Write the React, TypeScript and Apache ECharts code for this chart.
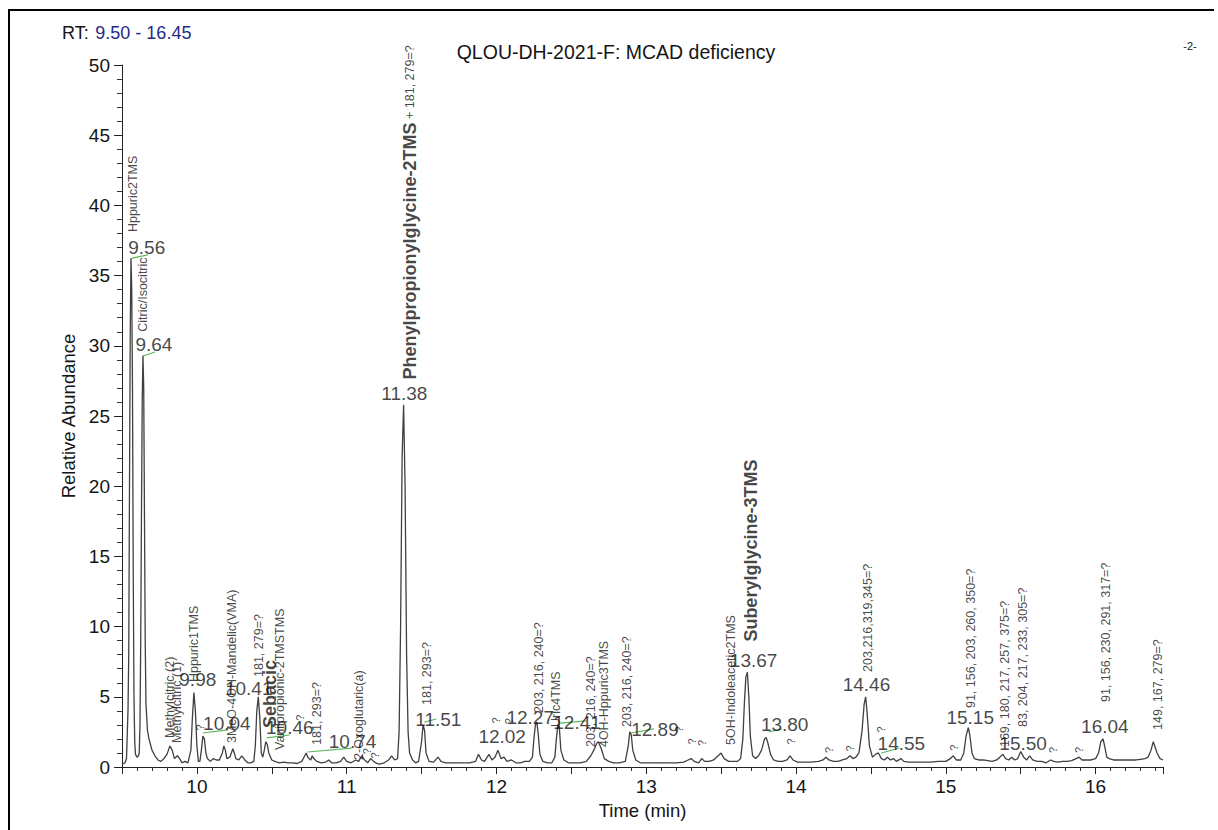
import React, { useEffect, useRef } from 'react';
import * as echarts from 'echarts';

const FONT = '"Liberation Sans", Arial, Helvetica, sans-serif';

// Axis ranges / tick labels
const rtRange: [number, number] = [9.5, 16.45];
const abundanceRange: [number, number] = [0, 50];
const xTickLabels = [10, 11, 12, 13, 14, 15, 16];

// Chromatogram trace: [retention time (min), relative abundance]
const trace: [number, number][] = [
  [9.5, 0.2], [9.51, 0.25], [9.52, 0.3], [9.53, 0.6], [9.54, 4.0], [9.545, 8], [9.55, 20], [9.555, 31],
  [9.56, 36.25], [9.565, 34], [9.57, 27], [9.575, 14], [9.58, 5], [9.585, 1.8], [9.59, 0.9], [9.6, 0.7],
  [9.61, 0.8], [9.615, 1.0], [9.62, 3], [9.625, 9], [9.63, 18], [9.635, 26], [9.64, 29.3], [9.645, 27],
  [9.65, 18], [9.655, 9], [9.66, 4.5], [9.67, 2.6], [9.68, 2.0], [9.69, 1.6], [9.7, 1.2], [9.72, 0.8],
  [9.74, 0.5], [9.76, 0.4], [9.78, 0.6], [9.8, 0.9], [9.82, 1.5], [9.835, 1.2], [9.85, 0.6], [9.87, 0.8],
  [9.885, 0.6], [9.9, 0.3], [9.92, 0.4], [9.94, 0.3], [9.96, 1.2], [9.97, 3.5], [9.98, 5.3], [9.99, 4.0],
  [10.0, 1.5], [10.01, 0.4], [10.02, 0.4], [10.03, 1.2], [10.04, 2.2], [10.05, 2.0], [10.06, 1.0], [10.07, 0.6],
  [10.09, 0.4], [10.11, 0.6], [10.13, 0.5], [10.15, 0.5], [10.17, 1.0], [10.18, 1.5], [10.19, 1.2], [10.2, 0.6],
  [10.22, 0.7], [10.24, 1.3], [10.25, 1.0], [10.26, 0.6], [10.28, 0.5], [10.3, 0.8], [10.32, 0.5], [10.34, 0.3],
  [10.36, 0.3], [10.38, 0.4], [10.39, 1.5], [10.4, 4.0], [10.41, 5.0], [10.42, 3.5], [10.43, 1.0], [10.44, 0.7],
  [10.45, 1.2], [10.46, 1.8], [10.47, 1.6], [10.48, 1.0], [10.5, 0.5], [10.52, 0.4], [10.55, 0.3], [10.58, 0.35],
  [10.61, 0.3], [10.64, 0.3], [10.67, 0.25], [10.7, 0.4], [10.72, 0.8], [10.73, 1.0], [10.74, 0.7], [10.76, 0.5],
  [10.77, 0.8], [10.78, 0.6], [10.8, 0.4], [10.83, 0.3], [10.86, 0.35], [10.88, 0.5], [10.9, 0.3], [10.93, 0.3],
  [10.96, 0.4], [10.98, 0.7], [11.0, 0.4], [11.03, 0.3], [11.06, 0.5], [11.08, 0.4], [11.1, 0.8], [11.12, 0.5],
  [11.14, 0.3], [11.16, 0.6], [11.18, 0.4], [11.2, 0.25], [11.22, 0.2], [11.25, 0.3], [11.28, 0.5], [11.3, 0.8],
  [11.32, 0.5], [11.34, 0.6], [11.35, 2.5], [11.36, 10], [11.37, 22], [11.38, 25.8], [11.39, 20], [11.4, 8],
  [11.41, 2.5], [11.42, 1.0], [11.44, 0.5], [11.46, 0.3], [11.48, 0.4], [11.5, 1.8], [11.51, 3.0], [11.52, 2.6],
  [11.53, 1.0], [11.55, 0.4], [11.58, 0.35], [11.61, 0.7], [11.63, 0.4], [11.66, 0.3], [11.7, 0.3], [11.74, 0.3],
  [11.78, 0.3], [11.82, 0.3], [11.86, 0.4], [11.88, 0.9], [11.9, 0.5], [11.92, 0.4], [11.95, 0.9], [11.97, 0.5],
  [11.99, 0.7], [12.01, 1.2], [12.03, 0.6], [12.05, 0.7], [12.07, 0.4], [12.1, 0.5], [12.13, 0.3], [12.16, 0.3],
  [12.19, 0.4], [12.22, 0.4], [12.24, 0.7], [12.25, 2.0], [12.26, 3.0], [12.27, 3.2], [12.28, 2.2], [12.29, 0.9],
  [12.31, 0.4], [12.34, 0.3], [12.37, 0.3], [12.39, 0.7], [12.4, 2.0], [12.41, 3.0], [12.42, 2.8], [12.43, 1.2],
  [12.45, 0.5], [12.48, 0.3], [12.52, 0.3], [12.56, 0.3], [12.6, 0.4], [12.63, 0.8], [12.65, 1.2], [12.67, 1.7],
  [12.68, 1.8], [12.7, 1.3], [12.72, 0.6], [12.75, 0.4], [12.78, 0.3], [12.82, 0.3], [12.86, 0.4], [12.88, 1.5],
  [12.89, 2.5], [12.9, 2.3], [12.91, 1.2], [12.93, 0.5], [12.96, 0.3], [13.0, 0.3], [13.05, 0.3], [13.1, 0.3],
  [13.15, 0.3], [13.2, 0.3], [13.25, 0.35], [13.28, 0.5], [13.3, 0.6], [13.32, 0.4], [13.35, 0.3], [13.37, 0.6],
  [13.39, 0.4], [13.42, 0.4], [13.45, 0.5], [13.48, 0.8], [13.5, 1.0], [13.52, 0.6], [13.55, 0.4], [13.58, 0.4],
  [13.61, 0.4], [13.63, 0.6], [13.645, 2.0], [13.655, 4.5], [13.665, 6.4], [13.675, 6.75], [13.685, 5.0], [13.695, 2.2],
  [13.71, 0.8], [13.73, 0.6], [13.75, 0.8], [13.77, 1.2], [13.79, 2.0], [13.8, 2.1], [13.81, 1.8], [13.83, 0.9],
  [13.85, 0.5], [13.88, 0.4], [13.91, 0.4], [13.94, 0.5], [13.96, 0.8], [13.98, 0.5], [14.01, 0.35], [14.05, 0.35],
  [14.1, 0.35], [14.15, 0.4], [14.18, 0.5], [14.2, 0.7], [14.22, 0.5], [14.25, 0.4], [14.28, 0.4], [14.31, 0.5],
  [14.34, 0.6], [14.36, 0.8], [14.38, 0.6], [14.4, 0.7], [14.42, 1.0], [14.44, 2.5], [14.455, 4.5], [14.465, 5.0],
  [14.475, 3.8], [14.49, 1.5], [14.51, 0.7], [14.53, 0.9], [14.55, 1.0], [14.57, 0.6], [14.59, 0.5], [14.61, 0.7],
  [14.63, 0.5], [14.65, 0.6], [14.67, 0.4], [14.7, 0.6], [14.72, 0.4], [14.75, 0.35], [14.8, 0.35], [14.85, 0.35],
  [14.9, 0.35], [14.95, 0.4], [15.0, 0.4], [15.03, 0.6], [15.05, 0.8], [15.07, 0.5], [15.1, 0.5], [15.12, 1.0],
  [15.135, 2.2], [15.15, 2.8], [15.16, 2.3], [15.175, 1.0], [15.19, 0.6], [15.22, 0.5], [15.25, 0.5], [15.28, 0.45],
  [15.31, 0.4], [15.34, 0.5], [15.36, 0.7], [15.38, 0.9], [15.4, 0.6], [15.42, 0.5], [15.44, 0.7], [15.46, 0.5],
  [15.48, 0.6], [15.5, 1.1], [15.52, 0.7], [15.54, 0.5], [15.56, 0.8], [15.58, 0.5], [15.61, 0.4], [15.64, 0.4],
  [15.67, 0.3], [15.7, 0.5], [15.72, 0.4], [15.75, 0.35], [15.78, 0.4], [15.81, 0.4], [15.84, 0.45], [15.87, 0.6],
  [15.89, 0.7], [15.91, 0.5], [15.94, 0.5], [15.97, 0.5], [16.0, 0.6], [16.02, 1.0], [16.035, 1.8], [16.05, 2.0],
  [16.06, 1.5], [16.075, 0.7], [16.09, 0.6], [16.12, 0.5], [16.15, 0.5], [16.18, 0.5], [16.21, 0.5], [16.24, 0.5],
  [16.27, 0.5], [16.3, 0.55], [16.33, 0.6], [16.35, 0.7], [16.37, 1.2], [16.385, 1.8], [16.395, 1.5], [16.41, 1.0],
  [16.43, 0.6], [16.45, 0.5],
];

// Peak retention-time labels: [rt, abundance, text] (text centre)
const peakRtLabels: [number, number, string][] = [
  [9.665, 37.0, '9.56'], [9.713, 30.1, '9.64'], [10.006, 6.2, '9.98'], [10.2, 3.1, '10.04'],
  [10.346, 5.6, '10.41'], [10.62, 2.8, '10.46'], [11.039, 1.8, '10.74'], [11.385, 26.6, '11.38'],
  [11.612, 3.35, '11.51'], [12.038, 2.2, '12.02'], [12.225, 3.55, '12.27'], [12.538, 3.2, '12.41'],
  [13.058, 2.65, '12.89'], [13.717, 7.6, '13.67'], [13.924, 3.0, '13.80'], [14.47, 5.9, '14.46'],
  [14.703, 1.7, '14.55'], [15.163, 3.55, '15.15'], [15.516, 1.65, '15.50'], [16.062, 2.85, '16.04'],
];

// Compound / unknown identifications (vertical text, anchored at text start)
const compoundLabels: [number, number, string][] = [
  [9.573, 38.1, 'Hppuric2TMS'], [9.64, 31.0, 'Citric/Isocitric'], [9.82, 2.07, 'Methylcitric (2)'],
  [9.866, 1.71, 'Methylcitric (1)'], [9.98, 6.05, 'Hppuric1TMS'], [10.233, 1.71, '3MeO-4OH-Mandelic(VMA)'],
  [10.413, 6.41, '181, 279=?'], [10.553, 1.21, 'Vanilpropionic-2TMSTMS'], [10.8, 1.57, '181, 293=?'],
  [11.079, 0.5, '2-Oxoglutaric(a)'], [11.539, 4.42, '181, 293=?'], [12.285, 3.85, '203, 216, 240=?'],
  [12.398, 2.85, 'Uric4TMS'], [12.631, 1.42, '203, 216, 240=?'], [12.718, 1.42, '4OH-Hppuric3TMS'],
  [12.871, 2.85, '203, 216, 240=?'], [13.564, 1.57, '5OH-Indoleacetic2TMS'], [14.483, 6.77, '203,216,319,345=?'],
  [15.17, 4.2, '91, 156, 203, 260, 350=?'], [15.396, 1.42, '169, 180, 217, 257, 375=?'],
  [15.516, 2.85, '83, 204, 217, 233, 305=?'], [16.069, 4.63, '91, 156, 230, 291, 317=?'],
  [16.415, 2.64, '149, 167, 279=?'],
];

const keyCompoundLabels: [number, number, string][] = [
  [10.49, 2.78, 'Sebacic'], [13.697, 8.93, 'Suberylglycine-3TMS'],
];
const mainCompoundLabel: [number, number, string, string] = [11.42, 27.6, 'Phenylpropionylglycine-2TMS', ' + 181, 279=?'];

const unknownMarks: [number, number][] = [
  [10.02, 2.6], [10.686, 3.3], [11.139, 0.9], [11.192, 0.6], [12.0, 3.1], [12.085, 3.05],
  [13.218, 2.45], [13.305, 1.6], [13.37, 1.5], [13.964, 1.6], [14.217, 1.0], [14.363, 1.1],
  [14.57, 2.45], [15.056, 1.15], [15.716, 1.0], [15.889, 1.0],
];

// Integration baselines: [rtStart, abStart, rtEnd, abEnd]
const integrationBaselines: [number, number, number, number][] = [
  [9.567, 36.25, 9.673, 36.47], [9.64, 29.27, 9.72, 29.56], [10.04, 2.42, 10.206, 2.64],
  [10.466, 2.07, 10.619, 2.28], [10.739, 1.07, 11.032, 1.35], [11.519, 3.2, 11.599, 3.42],
  [12.425, 3.13, 12.598, 3.28], [12.898, 2.42, 13.051, 2.71], [13.817, 2.49, 13.904, 2.71],
  [14.57, 1.0, 14.69, 1.35],
];

export default function App() {
  const ref = useRef<HTMLDivElement>(null);
  useEffect(() => {
    if (!ref.current) return;
    const chart = echarts.init(ref.current, undefined, { renderer: 'svg' });
    const textBase = { fontFamily: FONT, color: '#151515' };
    const option: any = {
      animation: false,
      backgroundColor: '#ffffff',
      grid: { left: 122, right: 55, top: 65, bottom: 63, containLabel: false },
      xAxis: {
        type: 'value',
        min: rtRange[0],
        max: rtRange[1],
        interval: 0.5,
        name: 'Time (min)',
        nameLocation: 'middle',
        nameGap: 29,
        nameTextStyle: { ...textBase, fontSize: 18.5 },
        axisLine: { show: true, lineStyle: { color: '#222', width: 1 } },
        axisTick: { show: true, length: 7, lineStyle: { color: '#222' } },
        minorTick: { show: true, splitNumber: 5, length: 4, lineStyle: { color: '#333' } },
        splitLine: { show: false },
        minorSplitLine: { show: false },
        axisLabel: {
          ...textBase,
          fontSize: 19,
          margin: 10,
          formatter: (v: number) => {
            const r = Math.round(v);
            return Math.abs(v - r) < 1e-6 && xTickLabels.includes(r) ? String(r) : '';
          },
        },
      },
      yAxis: {
        type: 'value',
        min: abundanceRange[0],
        max: abundanceRange[1],
        interval: 5,
        name: 'Relative Abundance',
        nameLocation: 'middle',
        nameGap: 38,
        nameRotate: 90,
        nameTextStyle: { ...textBase, fontSize: 18.5 },
        axisLine: { show: true, lineStyle: { color: '#222', width: 1 } },
        axisTick: { show: true, length: 8, lineStyle: { color: '#222' } },
        minorTick: { show: true, splitNumber: 5, length: 5, lineStyle: { color: '#333' } },
        splitLine: { show: false },
        axisLabel: { ...textBase, fontSize: 19, margin: 12 },
      },
      graphic: [
        { type: 'line', shape: { x1: 8, y1: 10, x2: 1214, y2: 10 }, style: { stroke: '#000', lineWidth: 2 } },
        { type: 'line', shape: { x1: 9, y1: 10, x2: 9, y2: 830 }, style: { stroke: '#000', lineWidth: 2 } },
        {
          type: 'text', x: 62, y: 33,
          style: {
            text: '{a|RT:}  {b|9.50 - 16.45}',
            verticalAlign: 'middle',
            rich: {
              a: { fontFamily: FONT, fontSize: 18, fill: '#151515' },
              b: { fontFamily: FONT, fontSize: 18, fill: '#262a86' },
            },
          },
        },
        {
          type: 'text', x: 616, y: 52,
          style: { text: 'QLOU-DH-2021-F: MCAD deficiency', fontFamily: FONT, fontSize: 19.5, fill: '#151515', align: 'center', verticalAlign: 'middle' },
        },
        {
          type: 'text', x: 1190, y: 46,
          style: { text: '-2-', fontFamily: FONT, fontSize: 11, fill: '#151515', align: 'center', verticalAlign: 'middle' },
        },
      ],
      series: [
        {
          type: 'line',
          data: trace,
          showSymbol: false,
          symbol: 'none',
          lineStyle: { color: '#404040', width: 1.3 },
          silent: true,
          z: 3,
        },
        ...integrationBaselines.map(([t1, a1, t2, a2]) => ({
          type: 'line',
          data: [[t1, a1], [t2, a2]],
          showSymbol: false,
          symbol: 'none',
          lineStyle: { color: '#5cb85c', width: 1.2 },
          silent: true,
          z: 4,
        })),
        {
          type: 'scatter',
          symbolSize: 0,
          silent: true,
          z: 5,
          data: peakRtLabels.map(([t, a, s]) => ({ value: [t, a], name: s })),
          label: { show: true, position: 'inside', formatter: '{b}', ...textBase, fontSize: 19, align: 'center', verticalAlign: 'middle' },
        },
        {
          type: 'scatter',
          symbolSize: 0,
          silent: true,
          z: 5,
          data: compoundLabels.map(([t, a, s]) => ({ value: [t, a], name: s })),
          label: { show: true, position: 'inside', formatter: '{b}', ...textBase, fontSize: 12.5, rotate: 90, align: 'left', verticalAlign: 'middle' },
        },
        {
          type: 'scatter',
          symbolSize: 0,
          silent: true,
          z: 5,
          data: keyCompoundLabels.map(([t, a, s]) => ({ value: [t, a], name: s })),
          label: { show: true, position: 'inside', formatter: '{b}', ...textBase, fontSize: 18, fontWeight: 'bold', rotate: 90, align: 'left', verticalAlign: 'middle' },
        },
        {
          type: 'scatter',
          symbolSize: 0,
          silent: true,
          z: 5,
          data: [{ value: [mainCompoundLabel[0], mainCompoundLabel[1]], name: mainCompoundLabel[2] }],
          label: {
            show: true, position: 'inside', rotate: 90, align: 'left', verticalAlign: 'middle',
            formatter: () => `{b|${mainCompoundLabel[2]}}{n|${mainCompoundLabel[3]}}`,
            rich: {
              b: { fontFamily: FONT, fontSize: 18, fontWeight: 'bold', color: '#151515' },
              n: { fontFamily: FONT, fontSize: 12.5, color: '#151515' },
            },
          },
        },
        {
          type: 'scatter',
          symbolSize: 0,
          silent: true,
          z: 5,
          data: unknownMarks.map(([t, a]) => ({ value: [t, a], name: '?' })),
          label: { show: true, position: 'inside', formatter: '{b}', ...textBase, fontSize: 11, rotate: 90, align: 'left', verticalAlign: 'middle' },
        },
      ],
    };
    chart.setOption(option);
    return () => chart.dispose();
  }, []);
  return <div ref={ref} style={{ position: 'absolute', left: 0, top: 0, width: 1218, height: 830, background: '#fff' }} />;
}
